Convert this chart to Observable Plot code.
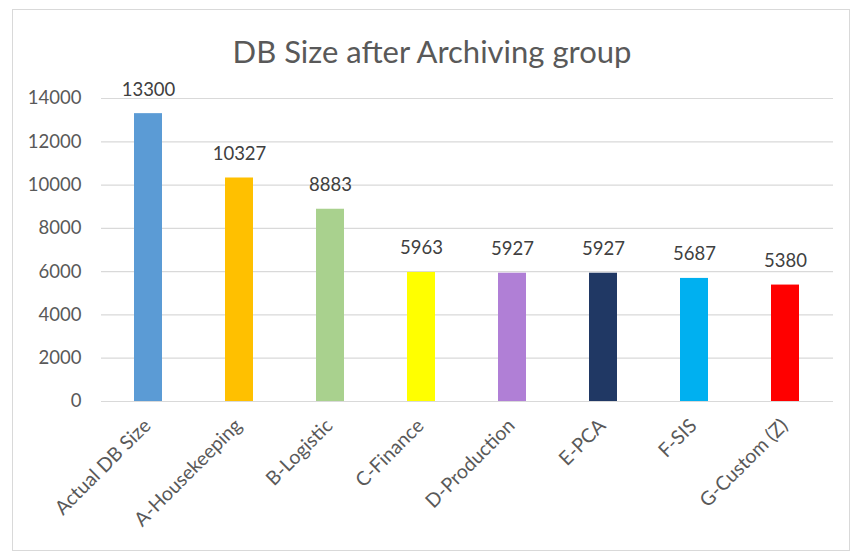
<!DOCTYPE html>
<html>
<head>
<meta charset="utf-8">
<script src="https://cdn.jsdelivr.net/npm/d3@7"></script>
<script src="https://cdn.jsdelivr.net/npm/@observablehq/plot@0.6"></script>
<style>
  html, body { margin: 0; padding: 0; background: #fff; }
  #wrap { position: relative; width: 859px; height: 555px; overflow: hidden; font-family: Lato, "Open Sans", sans-serif; }
  #frame { position: absolute; left: 12px; top: 9px; width: 838px; height: 542px; border: 1px solid #d9d9d9; box-sizing: border-box; }
  #title { position: absolute; left: 0; width: 864px; top: 36px; text-align: center; font-size: 31px; color: #595959; line-height: 1; }
  #chart { position: absolute; left: 0; top: 0; }
</style>
</head>
<body>
<div id="wrap">
  <div id="frame"></div>
  <div id="chart"></div>
  <div id="title">DB Size after Archiving group</div>
</div>
<script>
const title = "DB Size after Archiving group";
const categories = ["Actual DB Size", "A-Housekeeping", "B-Logistic", "C-Finance", "D-Production", "E-PCA", "F-SIS", "G-Custom (Z)"];
const values = [13300, 10327, 8883, 5963, 5927, 5927, 5687, 5380];
const colors = ["#5B9BD5", "#FFC000", "#A9D18E", "#FFFF00", "#B07FD6", "#203864", "#00B0F0", "#FF0000"];
const yTicks = [0, 2000, 4000, 6000, 8000, 10000, 12000, 14000];

const data = categories.map((c, i) => ({category: c, value: values[i]}));

const chart = Plot.plot({
  width: 859,
  height: 555,
  marginLeft: 101,
  marginRight: 26,
  marginTop: 98,
  marginBottom: 154,
  style: {fontFamily: "Lato, 'Open Sans', sans-serif", color: "#595959", background: "transparent"},
  x: {domain: categories, paddingInner: 0.69, paddingOuter: 0.345, label: null},
  y: {domain: [0, 14000], label: null},
  color: {domain: categories, range: colors},
  marks: [
    Plot.gridY(yTicks, {stroke: "#d9d9d9", strokeOpacity: 1, strokeWidth: 1.2}),
    Plot.axisY(yTicks, {tickSize: 0, tickPadding: 20, fontSize: 18.5, fill: "#595959", label: null, tickFormat: d => String(d)}),
    Plot.axisX({tickSize: 0, tickRotate: -45, tickPadding: 21, dx: -1, fontSize: 19.5, fill: "#595959", label: null}),
    Plot.barY(data, {x: "category", y: "value", fill: "category"}),
    Plot.text(data, {x: "category", y: "value", text: d => String(d.value), lineAnchor: "bottom", dy: -18, fontSize: 18.5, fill: "#404040"})
  ]
});
document.getElementById("chart").appendChild(chart);
</script>
</body>
</html>
